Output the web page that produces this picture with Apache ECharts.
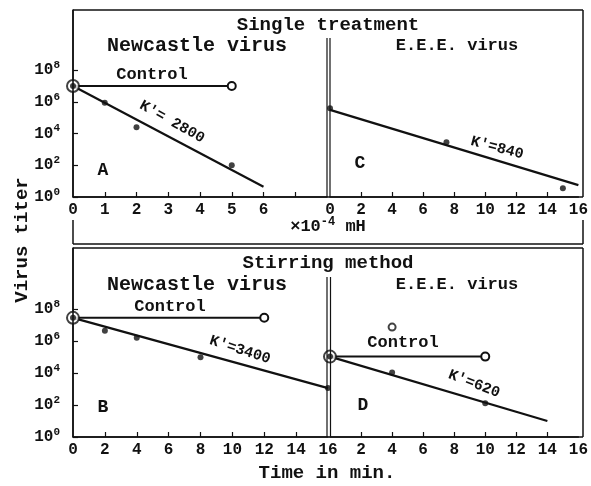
<!DOCTYPE html>
<html><head><meta charset="utf-8">
<script src="https://cdn.jsdelivr.net/npm/echarts@6/dist/echarts.min.js"></script>
<style>html,body{margin:0;padding:0;background:#fff}#c{width:591px;height:486px}</style>
</head><body><div id="c"></div>
<script>
// ---- data (y values are log10 of virus titer) ----
const A_xLabels = [0,1,2,3,4,5,6];
const A_xTicks = [1,2,3,4,5,6,7];
const A_start = [[0,7.0]];
const A_control = [[0,7.0],[5,7.0]];
const A_points = [[1,5.95],[2,4.4],[5,2.0]];
const A_fit = [[0,7.0],[6,0.65]];

const C_xLabels = [0,2,4,6,8,10,12,14,16];
const C_xTicks = [2,4,6,8,10,12,14];
const C_points = [[0,5.6],[7.5,3.45],[15,0.55]];
const C_fit = [[0,5.5],[16,0.75]];

const B_xLabels = [0,2,4,6,8,10,12,14,16];
const B_xTicks = [2,4,6,8,10,12,14];
const B_start = [[0,7.44]];
const B_control = [[0,7.44],[12,7.44]];
const B_points = [[2,6.64],[4,6.2],[8,4.98],[16,3.06]];
const B_fit = [[0,7.44],[16,3.05]];

const D_xLabels = [2,4,6,8,10,12,14,16];
const D_xTicks = [2,4,6,8,10,12,14];
const D_start = [[0,5.02]];
const D_control = [[0,5.02],[10,5.02]];
const D_extra = [[4,6.86]];
const D_points = [[4,4.02],[10,2.1]];
const D_fit = [[0,5.02],[14,1.0]];

const yLabels = [0,2,4,6,8];

// ---- layout ----
const FONT = 'Liberation Mono';
const L = 73, R = 583, MA = 327, MC = 330;
const T1 = 10, B1 = 197, T2 = 248, B2 = 437;
const YMAX = 11.8;

const chart = echarts.init(document.getElementById('c'), null, {renderer:'canvas'});
const black = '#111';

function xAx(gi, max, labels, ticks){
  return {type:'value', gridIndex:gi, min:0, max:max,
    axisLine:{show:true, lineStyle:{color:black, width:1.5}},
    axisTick:{show:true, inside:true, length:5, lineStyle:{color:black, width:1.2}, customValues:ticks},
    axisLabel:{show:true, color:black, fontFamily:FONT, fontWeight:'bold', fontSize:16, margin:5, customValues:labels},
    splitLine:{show:false}};
}
function yAx(gi, showLabels){
  return {type:'value', gridIndex:gi, min:0, max:YMAX,
    axisLine:{show:showLabels, lineStyle:{color:black, width:1.5}},
    axisTick:{show:showLabels, inside:true, length:5, lineStyle:{color:black, width:1.2}, customValues:yLabels},
    axisLabel:{show:showLabels, color:black, margin:13, customValues:yLabels,
      formatter:v => '{b|10}{s|' + v + '}',
      rich:{
        b:{fontFamily:FONT, fontWeight:'bold', fontSize:16, lineHeight:21, color:black},
        s:{fontFamily:FONT, fontWeight:'bold', fontSize:11, lineHeight:11, verticalAlign:'top', color:black}
      }},
    splitLine:{show:false}};
}
function lineS(gi, data, w, endOpen){
  return {type:'line', xAxisIndex:gi, yAxisIndex:gi, data:data, animation:false,
    symbol:(v,p)=> (endOpen && p.dataIndex===data.length-1) ? 'emptyCircle' : 'none',
    symbolSize:8, showSymbol:true,
    itemStyle:{color:black, borderWidth:1.5}, lineStyle:{color:black, width:w}, z:3};
}
function dots(gi, data){
  return {type:'scatter', xAxisIndex:gi, yAxisIndex:gi, data:data, symbol:'circle', symbolSize:6,
    itemStyle:{color:black}, animation:false, z:5};
}
function ring(gi, data, size){
  return {type:'scatter', xAxisIndex:gi, yAxisIndex:gi, data:data, symbol:'emptyCircle', symbolSize:size,
    itemStyle:{color:black, borderWidth:1.5}, animation:false, z:4};
}

function txt(x, y, s, size, rot){
  return {type:'text', x:x, y:y, rotation:(rot||0)*Math.PI/180, z:10,
    style:{text:s, fill:black, font: 'bold ' + size + 'px "' + FONT + '"', textAlign:'center', textVerticalAlign:'middle'}};
}
function ln(x1,y1,x2,y2,w){
  return {type:'line', shape:{x1:x1,y1:y1,x2:x2,y2:y2}, style:{stroke:black, lineWidth:w||1.5}, z:8};
}

const option = {
  backgroundColor:'#fff',
  animation:false,
  grid:[
    {left:L, top:T1, width:MA-L, height:B1-T1},
    {left:MC, top:T1, width:R-MC, height:B1-T1},
    {left:L, top:T2, width:MA+1-L, height:B2-T2},
    {left:MC, top:T2, width:R-MC, height:B2-T2}
  ],
  xAxis:[xAx(0,8,A_xLabels,A_xTicks), xAx(1,16,C_xLabels,C_xTicks), xAx(2,16,B_xLabels,B_xTicks), xAx(3,16,D_xLabels,D_xTicks)],
  yAxis:[yAx(0,true), yAx(1,false), yAx(2,true), yAx(3,false)],
  series:[
    lineS(0, A_control, 2, true), lineS(0, A_fit, 2.2, false), dots(0, A_points), dots(0, A_start), ring(0, A_start, 12),
    lineS(1, C_fit, 2.2, false), dots(1, C_points),
    lineS(2, B_control, 2, true), lineS(2, B_fit, 2.2, false), dots(2, B_points), dots(2, B_start), ring(2, B_start, 12),
    lineS(3, D_control, 2, true), lineS(3, D_fit, 2.2, false), dots(3, D_points), ring(3, D_extra, 7), dots(3, D_start), ring(3, D_start, 12)
  ],
  graphic:[
    // frames
    ln(L,T1,R,T1), ln(L,T1,L,B1), ln(R,T1,R,B1), ln(L,B1,R,B1),
    ln(L,220,L,244), ln(R,220,R,244), ln(L,244,R,244,1.5), ln(L,T2,R,T2,1.5),
    ln(L,T2,L,B2), ln(R,T2,R,B2), ln(L,B2,R,B2),
    ln(MA,38,MA,B1,1.2), ln(MC,38,MC,B1,1.2),
    ln(MA,277,MA,B2,1.2), ln(MC+0.5,277,MC+0.5,B2,1.2),
    // titles
    txt(328,25,'Single treatment',19), txt(197,46,'Newcastle virus',20), txt(457,46,'E.E.E. virus',17),
    txt(328,263,'Stirring method',19), txt(197,285,'Newcastle virus',20), txt(457,285,'E.E.E. virus',17),
    {type:'text', x:328, y:227, z:10, style:{text:'{a|×10}{s|-4}{a| mH}', textAlign:'center', textVerticalAlign:'middle',
      rich:{a:{fontFamily:FONT, fontWeight:'bold', fontSize:17, lineHeight:22, fill:black, color:black},
            s:{fontFamily:FONT, fontWeight:'bold', fontSize:12, lineHeight:12, verticalAlign:'top', fill:black, color:black}}}},
    txt(327,473,'Time in min.',19), txt(22,240,'Virus titer',19,90),
    // annotations
    txt(152,75,'Control',17), txt(172,122,"K'= 2800",15,-29), txt(103,170,'A',18),
    txt(497,148,"K'=840",15,-15), txt(360,163,'C',18),
    txt(170,307,'Control',17), txt(240,350,"K'=3400",15,-18), txt(103,407,'B',18),
    txt(403,343,'Control',17), txt(474,384,"K'=620",15,-21), txt(363,405,'D',18)
  ]
};
chart.setOption(option);
</script></body></html>
